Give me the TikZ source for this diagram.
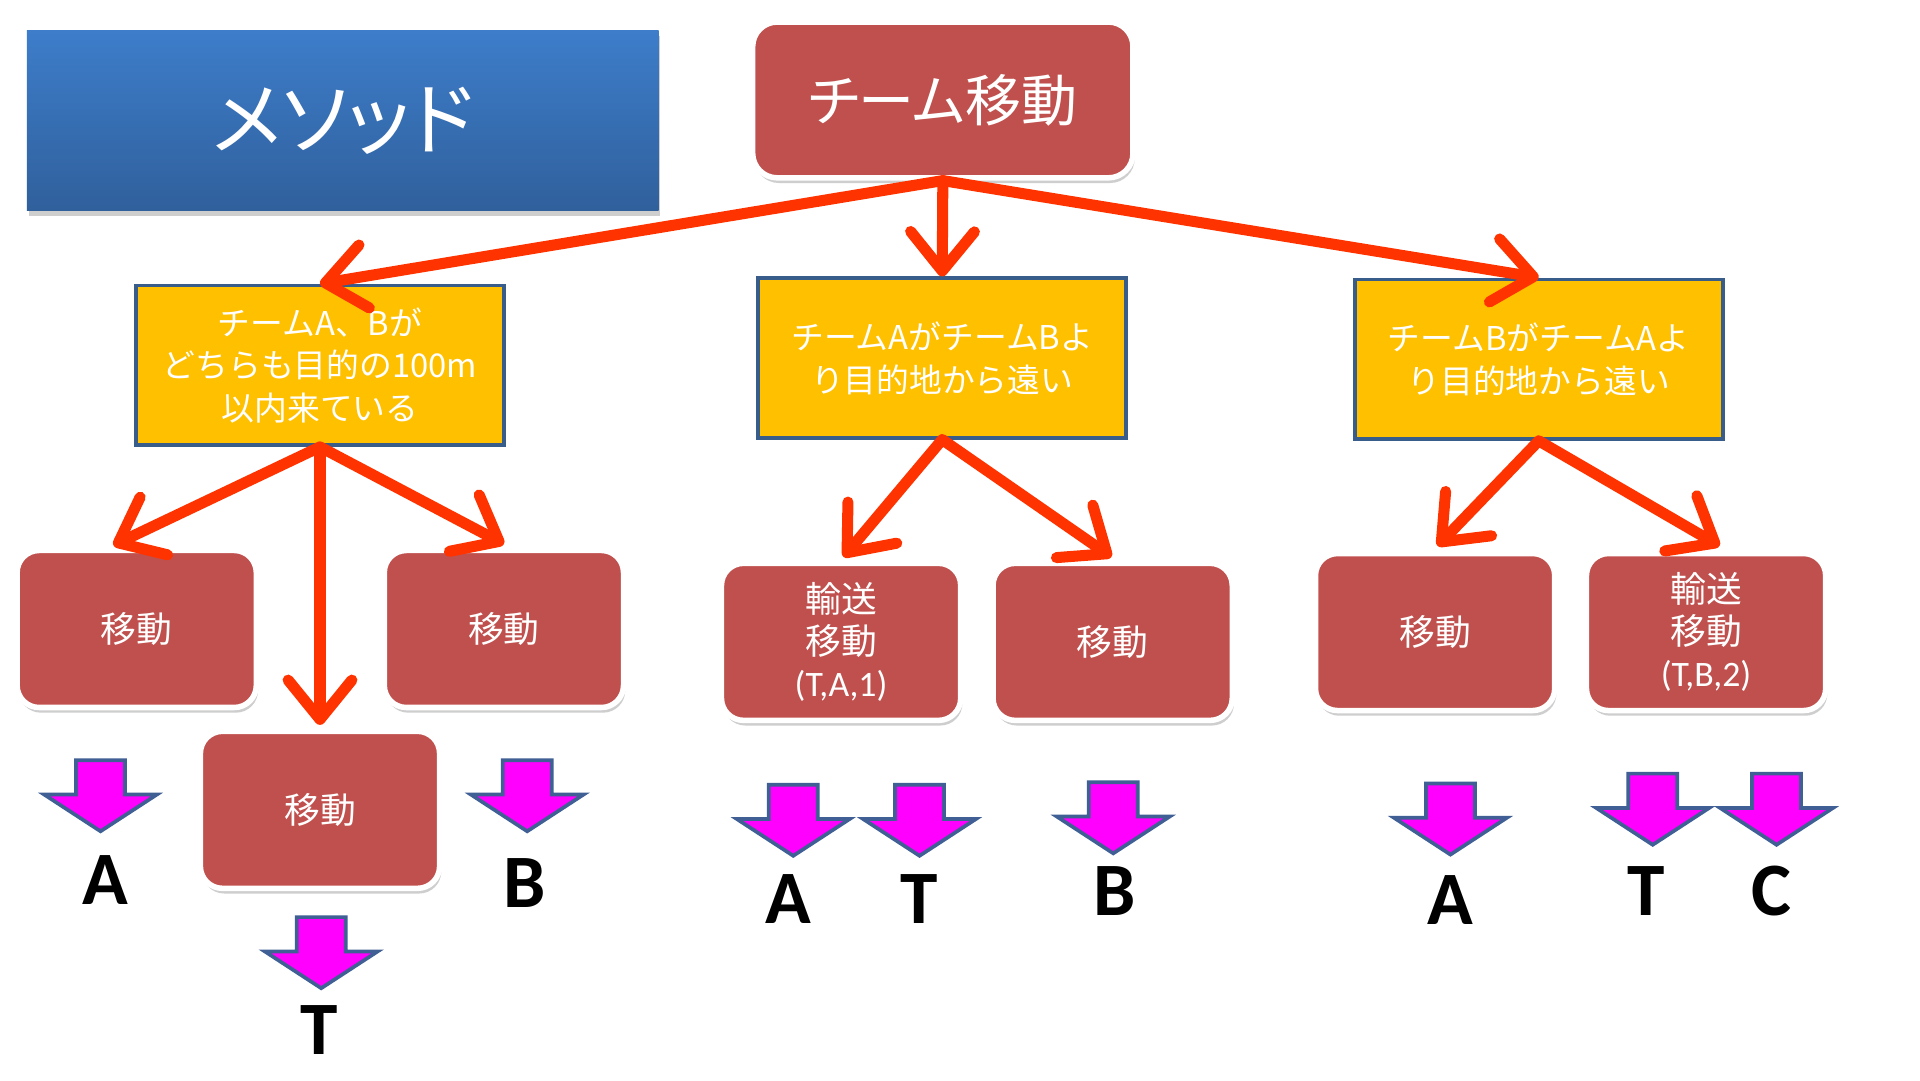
\documentclass[tikz,border=0pt]{standalone}
\usepackage{fontspec}
\usetikzlibrary{arrows.meta,shadows,calc}
\newfontfamily\jp[RawFeature=+palt]{Noto Sans CJK JP}
\newfontfamily\jpw{Noto Sans CJK JP}
\newfontfamily\lat{Carlito}
\definecolor{boxred}{HTML}{C0504D}
\definecolor{boxyellow}{HTML}{FFC000}
\definecolor{boxedge}{HTML}{385D8A}
\definecolor{arrred}{HTML}{FF3300}
\definecolor{pinkfill}{HTML}{FF00FF}
\definecolor{pinkedge}{HTML}{3F5F95}
\definecolor{bluetop}{HTML}{3D7DCA}
\definecolor{bluebot}{HTML}{30609C}
\newcommand{\pinkarrow}[2]{%
  \draw[pinkarr] (#1-20,-#2) -- (#1+20,-#2) -- (#1+20,-#2-28) -- (#1+46,-#2-28)
    -- (#1,-#2-58) -- (#1-46,-#2-28) -- (#1-20,-#2-28) -- cycle;}
\begin{document}
\begin{tikzpicture}[x=0.01cm,y=0.01cm,
  softshadow/.style={drop shadow={shadow xshift=0.4pt,shadow yshift=-1.2pt,opacity=0.35,fill=black!55}},
  bluebox/.style={top color=bluetop,bottom color=bluebot,draw=none,minimum width=5.15cm,minimum height=1.47cm,
    inner sep=0pt,text=white,font=\jp\fontsize{18.5pt}{21pt}\selectfont,softshadow},
  topbox/.style={rounded corners=0.2cm,fill=boxred,draw=white,line width=0.045cm,minimum width=3.1cm,
    minimum height=1.27cm,inner sep=0pt,text=white,font=\jp\fontsize{13pt}{15pt}\selectfont,softshadow},
  redbox/.style={rounded corners=0.18cm,fill=boxred,draw=white,line width=0.045cm,minimum width=1.95cm,
    minimum height=1.28cm,inner sep=0pt,align=center,text=white,font=\jp\fontsize{8.3pt}{9.7pt}\selectfont,softshadow},
  yellowbox/.style={fill=boxyellow,draw=boxedge,line width=0.03cm,minimum width=3cm,minimum height=1.3cm,
    inner sep=0pt,align=center,text=white,font=\jpw\fontsize{7.6pt}{9.9pt}\selectfont},
  arr/.style={draw=arrred,line width=0.09cm,line cap=round,-{Straight Barb[length=0.32cm,width=0.52cm,round]}},
  pinkarr/.style={fill=pinkfill,draw=pinkedge,line width=0.03cm,line join=miter},
  lbl/.style={font=\lat\bfseries\fontsize{17.5pt}{17.5pt}\selectfont,text=black,inner sep=0pt}
]
\useasboundingbox (0,0) rectangle (1566,-881);
\fill[white] (0,0) rectangle (1566,-881);

% title
\node[bluebox] (meth) at (279.5,-98.5) {メソッド};

% root
\node[topbox] (top) at (769,-81.5) {チーム移動};

% conditions
\node[yellowbox] (yl) at (261,-298) {チームA、Bが\\どちらも目的の100m\\以内来ている};
\node[yellowbox] (ym) at (768.5,-292) {チームAがチームBよ\\り目的地から遠い};
\node[yellowbox] (yr) at (1255,-293) {チームBがチームAよ\\り目的地から遠い};

% actions
\node[redbox] (l1) at (111.5,-513) {移動};
\node[redbox] (l2) at (411,-513) {移動};
\node[redbox] (l3) at (261,-660.5) {移動};
\node[redbox] (m1) at (686,-523.5) {輸送\\移動\\{\lat (T,A,1)}};
\node[redbox] (m2) at (907.5,-523.5) {移動};
\node[redbox] (r1) at (1170.5,-515.5) {移動};
\node[redbox] (r2) at (1391.5,-515.5) {輸送\\移動\\{\lat (T,B,2)}};

% connectors
\draw[arr] (top.south) -- (yl.north);
\draw[arr] (top.south) -- (ym.north);
\draw[arr] (top.south) -- (yr.north);
\draw[arr] (yl.south) -- ($(l1.north)+(-19,2)$);
\draw[arr] (yl.south) -- ($(l3.north)+(0,3)$);
\draw[arr] (yl.south) -- ($(l2.north)+(0,3)$);
\draw[arr] (ym.south) -- ($(m1.north)+(2,3)$);
\draw[arr] (ym.south) -- ($(m2.north)+(-1,3)$);
\draw[arr] (yr.south) -- ($(r1.north)+(2,4)$);
\draw[arr] (yr.south) -- ($(r2.north)+(11,4)$);

% result arrows
\pinkarrow{82}{620}
\pinkarrow{430}{620}
\pinkarrow{262}{748}
\pinkarrow{647}{640}
\pinkarrow{750}{640}
\pinkarrow{908}{638}
\pinkarrow{1183}{639}
\pinkarrow{1348}{631}
\pinkarrow{1449}{631}

% result labels
\node[lbl] (ra1) at (86,-718) {A};
\node[lbl] (rb1) at (428,-720) {B};
\node[lbl] (rt1) at (260,-840) {T};
\node[lbl] (ra2) at (643,-733) {A};
\node[lbl] (rt2) at (750,-733) {T};
\node[lbl] (rb2) at (909,-727) {B};
\node[lbl] (ra3) at (1183,-734) {A};
\node[lbl] (rt3) at (1343,-727) {T};
\node[lbl] (rc3) at (1445,-727) {C};
\end{tikzpicture}
\end{document}
